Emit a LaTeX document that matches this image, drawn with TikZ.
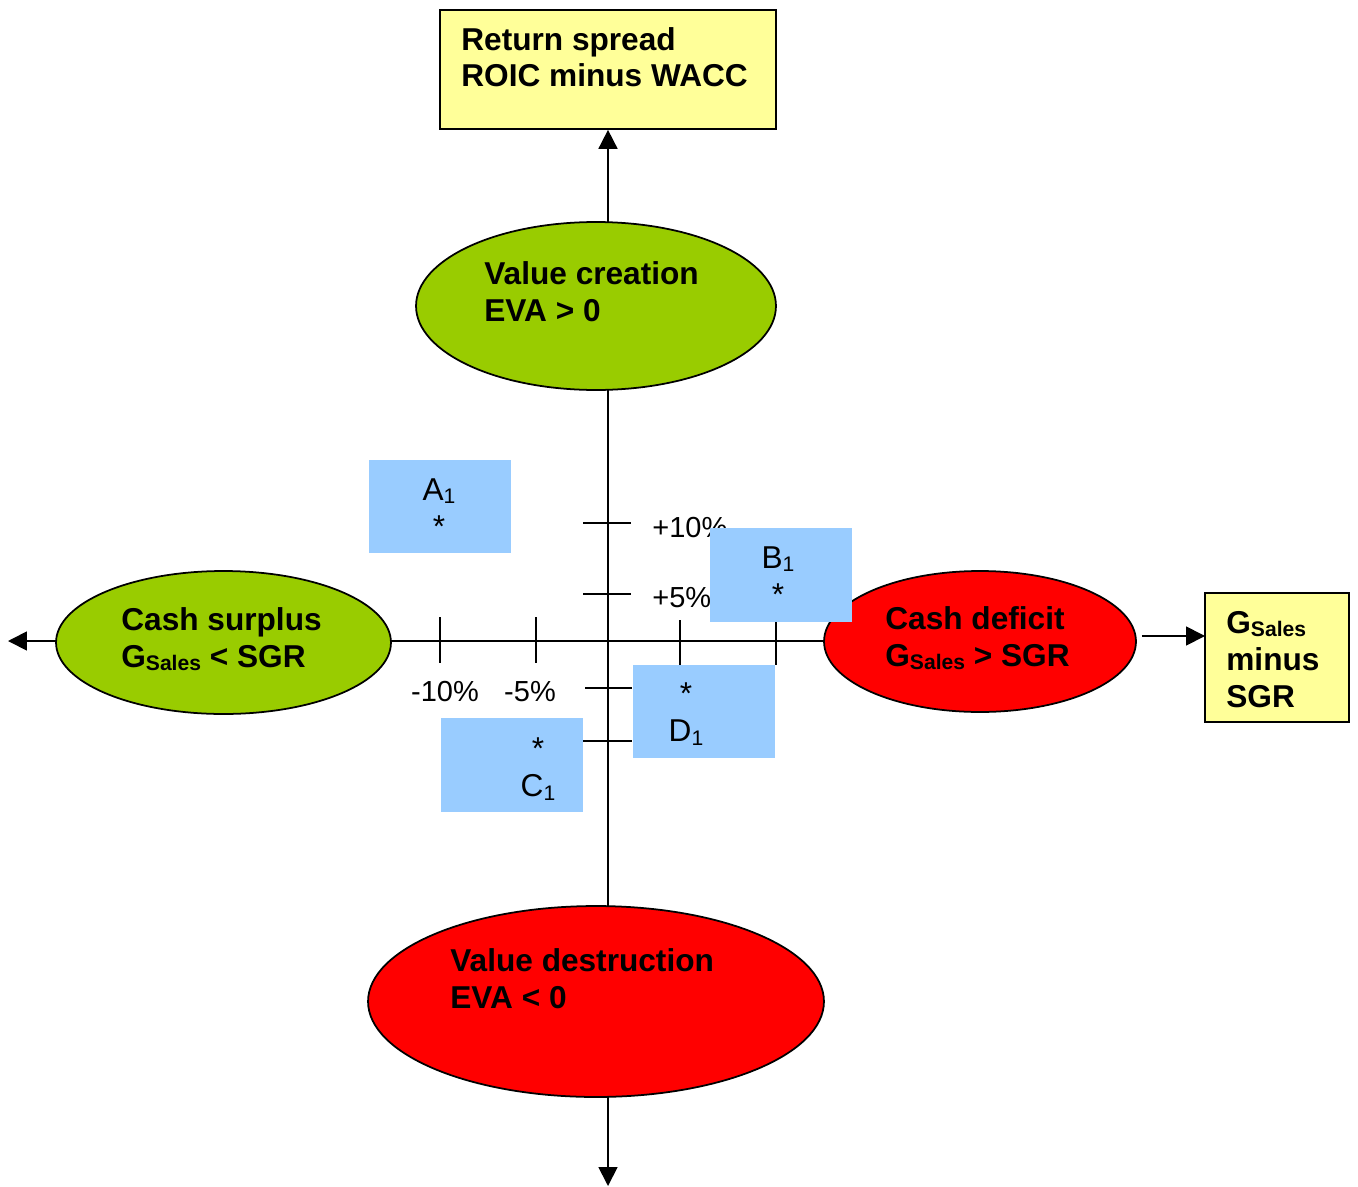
\documentclass[tikz,border=0pt]{standalone}
\usepackage{fontspec}
\setmainfont{Liberation Sans}
\usetikzlibrary{arrows.meta,shapes.geometric,backgrounds}
\definecolor{vgreen}{HTML}{99CC00}
\definecolor{vred}{HTML}{FF0000}
\definecolor{vyellow}{HTML}{FFFF99}
\definecolor{vblue}{HTML}{99CCFF}
\newcommand\sbs[1]{\raisebox{-2pt}{\fontsize{12}{12}\selectfont #1}}
\begin{document}
\begin{tikzpicture}[x=0.02cm,y=-0.02cm,
  ell/.style={ellipse,draw=black,line width=1pt,inner sep=0},
  ybox/.style={rectangle,draw=black,line width=1pt,fill=vyellow,inner sep=0},
  bbox/.style={rectangle,fill=vblue,inner sep=0},
  btxt/.style={font=\fontsize{18}{21}\selectfont\bfseries,align=left,anchor=base west,inner sep=0},
  ltxt/.style={font=\fontsize{18}{21}\selectfont,align=center,anchor=base,inner sep=0},
  ticklbl/.style={font=\fontsize{16.5}{18}\selectfont,inner sep=0},
  axisline/.style={line width=1pt},
  arr/.style={axisline,-{Triangle[length=0.38cm,width=0.38cm]}}
]
\useasboundingbox (0,0) rectangle (1358,1186);
\coordinate (O) at (608,641);
\coordinate (bot) at (608,1186);
\coordinate (lft) at (8,641);
\coordinate (gin) at (1205,636);

% main shapes
\node[ybox,minimum width=6.72cm,minimum height=2.38cm] (ret) at (608,69.5) {};
\node[ell,fill=vgreen,minimum width=7.2cm,minimum height=3.36cm] (vc) at (596,306) {};
\node[ell,fill=vred,minimum width=9.12cm,minimum height=3.82cm] (vd) at (596,1001.5) {};
\node[ell,fill=vgreen,minimum width=6.7cm,minimum height=2.86cm] (cs) at (223.5,642.5) {};
\node[ell,fill=vred,minimum width=6.24cm,minimum height=2.82cm] (cd) at (980,641.5) {};
\node[ybox,minimum width=2.88cm,minimum height=2.58cm] (gb) at (1277,657.5) {};

% texts (base anchor = last line)
\node[btxt] (rett) at (461,87) {Return spread\\ROIC minus WACC};
\node[btxt] (vct) at (484,321) {Value creation\\EVA > 0};
\node[btxt] (vdt) at (450,1008) {Value destruction\\EVA < 0};
\node[btxt] (cst) at (121,667) {Cash surplus\\G\sbs{Sales} < SGR};
\node[btxt] (cdt) at (885,666) {Cash deficit\\G\sbs{Sales} > SGR};
\node[btxt] (gbt) at (1226,707) {G\sbs{Sales}\\minus\\SGR};

% tick labels
\node[ticklbl,anchor=base] (tm10) at (445,701) {-10\%};
\node[ticklbl,anchor=base] (tm5) at (530,701) {-5\%};
\node[ticklbl,anchor=base west] (tp10) at (652,537) {+10\%};
\node[ticklbl,anchor=base west] (tp5) at (652,607) {+5\%};

% blue boxes
\node[bbox,minimum width=2.84cm,minimum height=1.86cm] (ba) at (440,506.5) {};
\node[ltxt] (la) at (439,537) {A\sbs{1}\\*};
\node[bbox,minimum width=2.84cm,minimum height=1.88cm] (bb) at (781,575) {};
\node[ltxt] (lb) at (778,605) {B\sbs{1}\\*};
\node[bbox,minimum width=2.84cm,minimum height=1.86cm] (bd) at (704,711.5) {};
\node[ltxt] (ld) at (686,741.7) {*\\D\sbs{1}};
\node[bbox,minimum width=2.84cm,minimum height=1.88cm] (bc) at (512,765) {};
\node[ltxt] (lc) at (538,796.7) {*\\C\sbs{1}};

\begin{pgfonlayer}{background}
\draw[arr] (vc.center -| O) -- (ret.south);
\draw[axisline] (vc.center -| O) -- (vd.center -| O);
\draw[arr] (vd.center -| O) -- (bot);
\draw[arr] (cs.center |- O) -- (lft);
\draw[axisline] (cs.center |- O) -- (cd.center |- O);
\draw[arr,shorten <=0.1cm] (cd.east |- gin) -- (gin);
% ticks
\draw[axisline] (440,617) -- (440,663);
\draw[axisline] (536,617) -- (536,663);
\draw[axisline] (680,620) -- (680,665);
\draw[axisline] (776,620) -- (776,665);
\draw[axisline] (583,523) -- (631,523);
\draw[axisline] (583,594) -- (631,594);
\draw[axisline] (585,688) -- (632,688);
\draw[axisline] (583,741) -- (632,741);
\end{pgfonlayer}
\end{tikzpicture}
\end{document}
